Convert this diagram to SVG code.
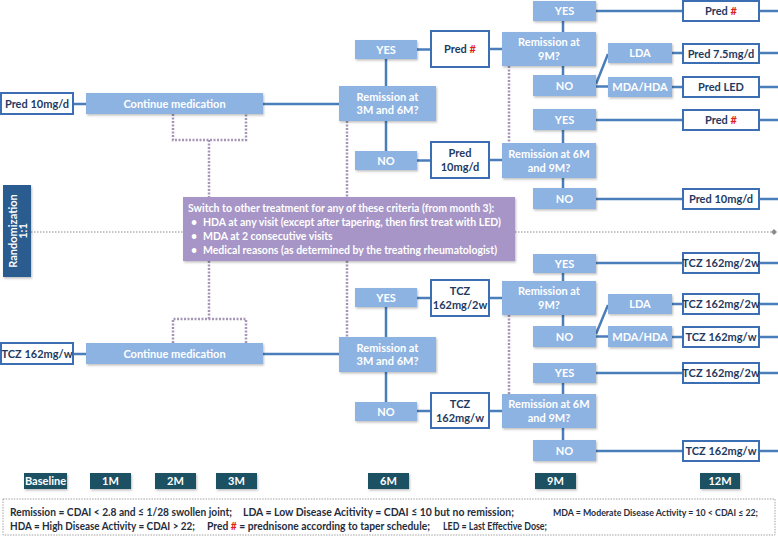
<svg xmlns="http://www.w3.org/2000/svg" width="778" height="536" viewBox="0 0 778 536">
<defs>
<filter id="sh" x="-10%" y="-20%" width="130%" height="150%">
<feDropShadow dx="1" dy="1.5" stdDeviation="1" flood-color="#000" flood-opacity="0.25"/>
</filter>
<style>
.b{fill:#8db3e2;filter:url(#sh)}
.w{fill:#fff;stroke:#3c6eb4;stroke-width:2}
.t{font-family:Lato,"Liberation Sans",sans-serif;font-weight:bold;font-size:11px;text-anchor:middle}
.tw{fill:#fff}
.tn{fill:#1f3a5f}
.r{fill:#e0201b}
.c{stroke:#4a7ebb;stroke-width:2.5;fill:none}
.d{stroke:#a596b8;stroke-width:2.5;stroke-dasharray:2 1.5;fill:none}
.dt{stroke:#8a8a8a;stroke-width:1;stroke-dasharray:1.5 1.5;fill:none}
.tl{fill:#1f5163;filter:url(#sh)}
.lg{font-family:Lato,"Liberation Sans",sans-serif;font-weight:bold;font-size:10.5px;fill:#1f2d3d}
.sw{font-family:Lato,"Liberation Sans",sans-serif;font-weight:bold;font-size:10.5px;fill:#fff}
</style>
</defs>
<rect width="778" height="536" fill="#fff"/>

<g id="connectors">
<path class="c" d="M73,104H86 M263,104H339 M386,59V86 M386,121V151 M417,49.5H431 M489,49H502 M417,160.5H431 M489,160H502"/>
<path class="c" d="M563,21V32 M563,66V75 M563,130V143 M563,178V188"/>
<path class="c" d="M596,11H683 M596,84L608,54 M596,86.5H608 M672,53H683 M672,87H683 M596,120H683 M596,199H683"/>
<path class="c" d="M759,11H778 M759,53H778 M759,87H778 M759,120H778 M759,199H778"/>
<path class="c" d="M73,354H86 M263,354H339 M386,307V337 M386,372V402 M417,298H431 M489,298H502 M417,411H431 M489,411H502"/>
<path class="c" d="M563,273V281 M563,315V326 M563,383V394 M563,428V440"/>
<path class="c" d="M596,263H683 M596,334L608,305 M596,336.5H608 M672,304H683 M672,337H683 M596,373H683 M596,451H683"/>
<path class="c" d="M759,263H778 M759,304H778 M759,337H778 M759,373H778 M759,451H778"/>
<path class="d" d="M173,114V140H246V114 M209,140V198 M347,121V198 M509,66V143"/>
<path class="d" d="M173,343V319H246V343 M209,261V319 M347,261V337 M509,315V394"/>
<path class="dt" d="M31,232H183 M515,232H771"/>
<path d="M774,229L777,232L774,235L771,232Z" fill="#8a8a8a"/>
</g>

<g id="randomization">
<rect x="3" y="185" width="28" height="92" fill="#2b5c8f" filter="url(#sh)"/>
<text class="t tw" font-size="11" transform="translate(13.5,231) rotate(-90)" y="3.5">Randomization</text>
<text class="t tw" font-size="11" transform="translate(23,231) rotate(-90)" y="3.5">1:1</text>
</g>

<g id="switch">
<rect x="183" y="197" width="332" height="64" fill="#a695c6" filter="url(#sh)"/>
<text class="sw" x="188" y="212">Switch to other treatment for any of these criteria (from month 3):</text>
<text class="sw" x="191" y="226">•</text>
<text class="sw" x="203" y="226">HDA at any visit (except after tapering, then first treat with LED)</text>
<text class="sw" x="191" y="240">•</text>
<text class="sw" x="203" y="240">MDA at 2 consecutive visits</text>
<text class="sw" x="191" y="254">•</text>
<text class="sw" x="203" y="254">Medical reasons (as determined by the treating rheumatologist)</text>
</g>

<g id="pred10_start"><rect class="w" x="1" y="93" width="72" height="21"/><text class="t tn" x="37" y="108">Pred 10mg/d</text></g>
<g id="continue_top"><rect class="b" x="86" y="93" width="177" height="21"/><text class="t tw" x="174.5" y="108">Continue medication</text></g>
<g id="rem36_top"><rect class="b" x="339" y="86" width="97" height="35"/><text class="t tw" x="387.5" y="101">Remission at</text><text class="t tw" x="387.5" y="114">3M and 6M?</text></g>
<g id="yes_a"><rect class="b" x="355" y="40" width="62" height="19"/><text class="t tw" x="386" y="53.5">YES</text></g>
<g id="no_a"><rect class="b" x="355" y="151" width="62" height="19"/><text class="t tw" x="386" y="164.5">NO</text></g>
<g id="predh_a"><rect class="w" x="431" y="31" width="58" height="36"/><text class="t tn" x="460" y="53">Pred <tspan class="r">#</tspan></text></g>
<g id="pred10_mid"><rect class="w" x="431" y="142" width="58" height="36"/><text class="t tn" x="460" y="157">Pred</text><text class="t tn" x="460" y="171">10mg/d</text></g>
<g id="rem9_top"><rect class="b" x="502" y="32" width="94" height="34"/><text class="t tw" x="549" y="46">Remission at</text><text class="t tw" x="549" y="60">9M?</text></g>
<g id="yes_b"><rect class="b" x="533" y="1" width="63" height="20"/><text class="t tw" x="564.5" y="15">YES</text></g>
<g id="no_b"><rect class="b" x="533" y="75" width="63" height="21"/><text class="t tw" x="564.5" y="89.5">NO</text></g>
<g id="lda_a"><rect class="b" x="608" y="43" width="64" height="20"/><text class="t tw" x="640" y="57">LDA</text></g>
<g id="mda_a"><rect class="b" x="608" y="77" width="64" height="20"/><text class="t tw" x="640" y="91">MDA/HDA</text></g>
<g id="predh_b"><rect class="w" x="683" y="1" width="76" height="20"/><text class="t tn" x="721" y="15">Pred <tspan class="r">#</tspan></text></g>
<g id="pred75"><rect class="w" x="683" y="44" width="76" height="19"/><text class="t tn" x="721" y="57.5">Pred 7.5mg/d</text></g>
<g id="predled"><rect class="w" x="683" y="77" width="76" height="20"/><text class="t tn" x="721" y="91">Pred LED</text></g>
<g id="yes_c"><rect class="b" x="533" y="109" width="63" height="21"/><text class="t tw" x="564.5" y="123.5">YES</text></g>
<g id="rem69_top"><rect class="b" x="502" y="143" width="94" height="35"/><text class="t tw" x="549" y="158">Remission at 6M</text><text class="t tw" x="549" y="172">and 9M?</text></g>
<g id="predh_c"><rect class="w" x="683" y="110" width="76" height="20"/><text class="t tn" x="721" y="124">Pred <tspan class="r">#</tspan></text></g>
<g id="no_c"><rect class="b" x="533" y="188" width="63" height="21"/><text class="t tw" x="564.5" y="202.5">NO</text></g>
<g id="pred10_end"><rect class="w" x="683" y="189" width="76" height="20"/><text class="t tn" x="721" y="203">Pred 10mg/d</text></g>

<g id="tczw_start"><rect class="w" x="1" y="343" width="72" height="21"/><text class="t tn" x="37" y="358">TCZ 162mg/w</text></g>
<g id="continue_bot"><rect class="b" x="86" y="343" width="177" height="21"/><text class="t tw" x="174.5" y="358">Continue medication</text></g>
<g id="rem36_bot"><rect class="b" x="339" y="337" width="97" height="35"/><text class="t tw" x="387.5" y="352">Remission at</text><text class="t tw" x="387.5" y="365">3M and 6M?</text></g>
<g id="yes_d"><rect class="b" x="355" y="288" width="62" height="19"/><text class="t tw" x="386" y="301.5">YES</text></g>
<g id="no_d"><rect class="b" x="355" y="402" width="62" height="19"/><text class="t tw" x="386" y="415.5">NO</text></g>
<g id="tcz2w_mid"><rect class="w" x="431" y="280" width="58" height="36"/><text class="t tn" x="460" y="295">TCZ</text><text class="t tn" x="460" y="309">162mg/2w</text></g>
<g id="tczw_mid"><rect class="w" x="431" y="393" width="58" height="35"/><text class="t tn" x="460" y="408">TCZ</text><text class="t tn" x="460" y="422">162mg/w</text></g>
<g id="rem9_bot"><rect class="b" x="502" y="281" width="94" height="34"/><text class="t tw" x="549" y="295">Remission at</text><text class="t tw" x="549" y="309">9M?</text></g>
<g id="yes_e"><rect class="b" x="533" y="254" width="63" height="19"/><text class="t tw" x="564.5" y="267.5">YES</text></g>
<g id="tcz2w_a"><rect class="w" x="683" y="253" width="76" height="20"/><text class="t tn" x="721" y="267">TCZ 162mg/2w</text></g>
<g id="no_e"><rect class="b" x="533" y="326" width="63" height="21"/><text class="t tw" x="564.5" y="340.5">NO</text></g>
<g id="lda_b"><rect class="b" x="608" y="294" width="64" height="20"/><text class="t tw" x="640" y="308">LDA</text></g>
<g id="mda_b"><rect class="b" x="608" y="326" width="64" height="21"/><text class="t tw" x="640" y="340.5">MDA/HDA</text></g>
<g id="tcz2w_b"><rect class="w" x="683" y="294" width="76" height="20"/><text class="t tn" x="721" y="308">TCZ 162mg/2w</text></g>
<g id="tczw_b"><rect class="w" x="683" y="327" width="76" height="20"/><text class="t tn" x="721" y="341">TCZ 162mg/w</text></g>
<g id="yes_f"><rect class="b" x="533" y="363" width="63" height="20"/><text class="t tw" x="564.5" y="377">YES</text></g>
<g id="tcz2w_c"><rect class="w" x="683" y="363" width="76" height="20"/><text class="t tn" x="721" y="377">TCZ 162mg/2w</text></g>
<g id="rem69_bot"><rect class="b" x="502" y="394" width="94" height="34"/><text class="t tw" x="549" y="408">Remission at 6M</text><text class="t tw" x="549" y="422">and 9M?</text></g>
<g id="no_f"><rect class="b" x="533" y="440" width="63" height="21"/><text class="t tw" x="564.5" y="454.5">NO</text></g>
<g id="tczw_c"><rect class="w" x="683" y="441" width="76" height="20"/><text class="t tn" x="721" y="455">TCZ 162mg/w</text></g>

<g id="t_baseline"><rect class="tl" x="24" y="473" width="43" height="16"/><text class="t tw" font-size="10" x="45.5" y="484.5">Baseline</text></g>
<g id="t_1m"><rect class="tl" x="90" y="473" width="41" height="16"/><text class="t tw" font-size="10" x="110.5" y="484.5">1M</text></g>
<g id="t_2m"><rect class="tl" x="155" y="473" width="41" height="16"/><text class="t tw" font-size="10" x="175.5" y="484.5">2M</text></g>
<g id="t_3m"><rect class="tl" x="216" y="473" width="41" height="16"/><text class="t tw" font-size="10" x="236.5" y="484.5">3M</text></g>
<g id="t_6m"><rect class="tl" x="368" y="473" width="41" height="16"/><text class="t tw" font-size="10" x="388.5" y="484.5">6M</text></g>
<g id="t_9m"><rect class="tl" x="535" y="473" width="41" height="16"/><text class="t tw" font-size="10" x="555.5" y="484.5">9M</text></g>
<g id="t_12m"><rect class="tl" x="700" y="473" width="40" height="16"/><text class="t tw" font-size="10" x="720" y="484.5">12M</text></g>

<g id="legend">
<rect x="3" y="499" width="772" height="36" fill="#fff" stroke="#8a8a8a" stroke-width="0.8" stroke-dasharray="1.5 1.2"/>
<text class="lg" x="10" y="516" textLength="222" lengthAdjust="spacingAndGlyphs">Remission = CDAI &lt; 2.8 and ≤ 1/28 swollen joint;</text>
<text class="lg" x="243" y="516" textLength="271" lengthAdjust="spacingAndGlyphs">LDA = Low Disease Acitivity = CDAI ≤ 10 but no remission;</text>
<text class="lg" x="553" y="516" style="font-size:9.5px" textLength="205" lengthAdjust="spacingAndGlyphs">MDA = Moderate Disease Activity = 10 &lt; CDAI ≤ 22;</text>
<text class="lg" x="10" y="530" textLength="185" lengthAdjust="spacingAndGlyphs">HDA = High Disease Activity = CDAI &gt; 22;</text>
<text class="lg" x="207" y="530" textLength="223" lengthAdjust="spacingAndGlyphs">Pred <tspan class="r">#</tspan> = prednisone according to taper schedule;</text>
<text class="lg" x="443" y="530" textLength="104" lengthAdjust="spacingAndGlyphs">LED = Last Effective Dose;</text>
</g>
</svg>
